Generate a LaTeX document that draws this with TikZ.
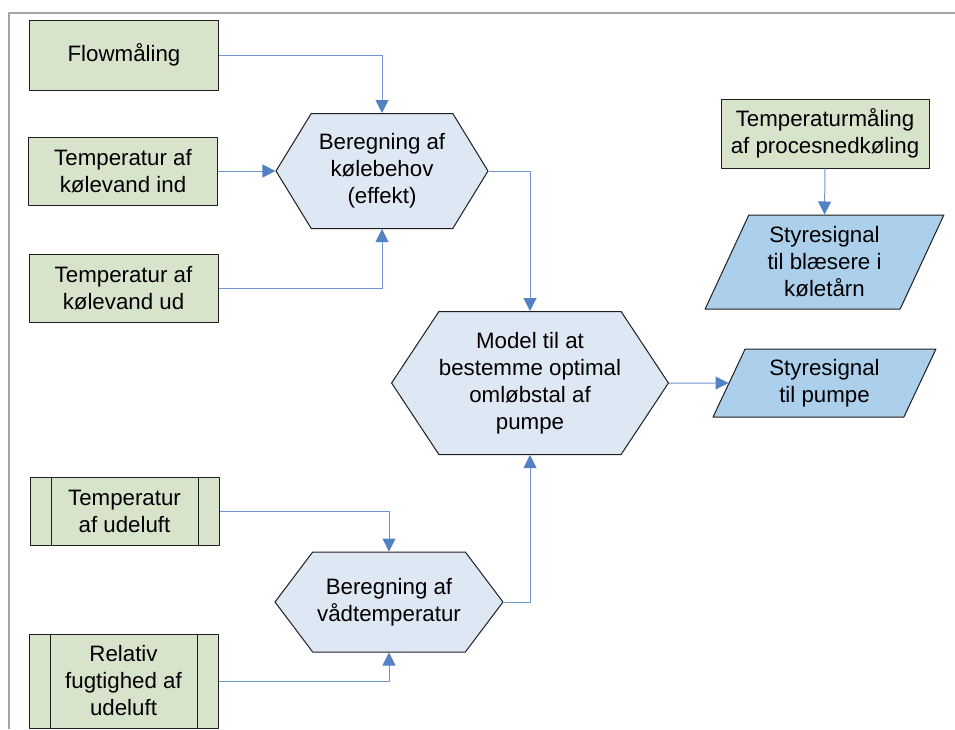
\documentclass[tikz,border=0pt]{standalone}
\usepackage{fontspec}
\setmainfont{Liberation Sans}
\usetikzlibrary{shapes.geometric,shapes.symbols,arrows.meta}
\definecolor{kasse}{RGB}{215,228,203}
\definecolor{sekskant}{RGB}{222,231,244}
\definecolor{signalblaa}{RGB}{172,207,235}
\definecolor{pil}{RGB}{112,150,208}
\definecolor{pilspids}{RGB}{82,130,196}
\definecolor{ramme}{RGB}{165,165,165}
\definecolor{kant}{RGB}{30,30,30}
\begin{document}
\begin{tikzpicture}[x=1pt, y=-1pt, line join=round,
	font=\fontsize{22.3}{27}\selectfont,
	>={Triangle[length=13pt,width=13pt,color=pilspids]},
	boks/.style={draw=kant, line width=1pt, fill=kasse, align=center, inner sep=0pt,
		minimum width=189pt, minimum height=68pt},
	proces/.style={boks, path picture={
		\draw[kant, line width=1pt]
		([xshift=21pt]path picture bounding box.north west) -- ([xshift=21pt]path picture bounding box.south west)
		([xshift=-21pt]path picture bounding box.north east) -- ([xshift=-21pt]path picture bounding box.south east);}},
	seks/.style={draw=kant, line width=1pt, fill=sekskant, align=center, inner sep=0pt,
		signal, signal to=east and west, signal pointer angle=#1},
	udsignal/.style={draw=kant, line width=1pt, fill=signalblaa, align=center, inner sep=0pt,
		trapezium, trapezium left angle=65, trapezium right angle=115, trapezium stretches=true},
	pilen/.style={draw=pil, line width=1pt, ->}]
	\useasboundingbox (0,0) rectangle (955,729);
	\draw[ramme, line width=1.5pt] (9,729) -- (9,13) -- (955,13);
	% venstre side
	\path
	(124,55) node[boks, minimum height=70pt] (flow) {Flowmåling}
	(123,171) node[boks] (ind) {Temperatur af\\kølevand ind}
	(123.5,288) node[boks] (ud) {Temperatur af\\kølevand ud}
	(124.5,511) node[proces] (luft) {Temperatur\\af udeluft}
	(123.5,681) node[proces, minimum height=94pt] (fugt) {Relativ\\fugtighed af\\udeluft}
	;
	% beregninger
	\path
	(382,171) node[seks=117, minimum width=212pt, minimum height=115pt] (kulde) {Beregning af\\kølebehov\\(effekt)}
	(530,383) node[seks=113, minimum width=274pt, minimum height=143pt] (model) {Model til at\\bestemme optimal\\omløbstal af\\pumpe}
	(389,602) node[seks=106, minimum width=228pt, minimum height=100pt] (vaad) {Beregning af\\vådtemperatur}
	;
	% hoejre side
	\path
	(825,133.5) node[boks, minimum width=208pt, minimum height=69pt] (proc) {Temperaturmåling\\af procesnedkøling}
	(824.5,262) node[udsignal, minimum width=239pt, minimum height=94pt] (blaes) {Styresignal\\til blæsere i\\køletårn}
	(824.5,383) node[udsignal, minimum width=223pt, minimum height=68pt] (pumpe) {Styresignal\\til pumpe}
	;
	\foreach \a/\b in {flow/kulde.north, ud/kulde.south, kulde/model.north, luft/vaad.north, fugt/vaad.south, vaad/model.south}{
	\draw[pilen] (\a.east) -| (\b);
}
	\draw[pilen] (ind.east) -- (kulde.west);
	\draw[pilen] (model.east) -- (pumpe.west);
	\draw[pilen] (proc.south) -- (blaes.north);
\end{tikzpicture}
\end{document}
